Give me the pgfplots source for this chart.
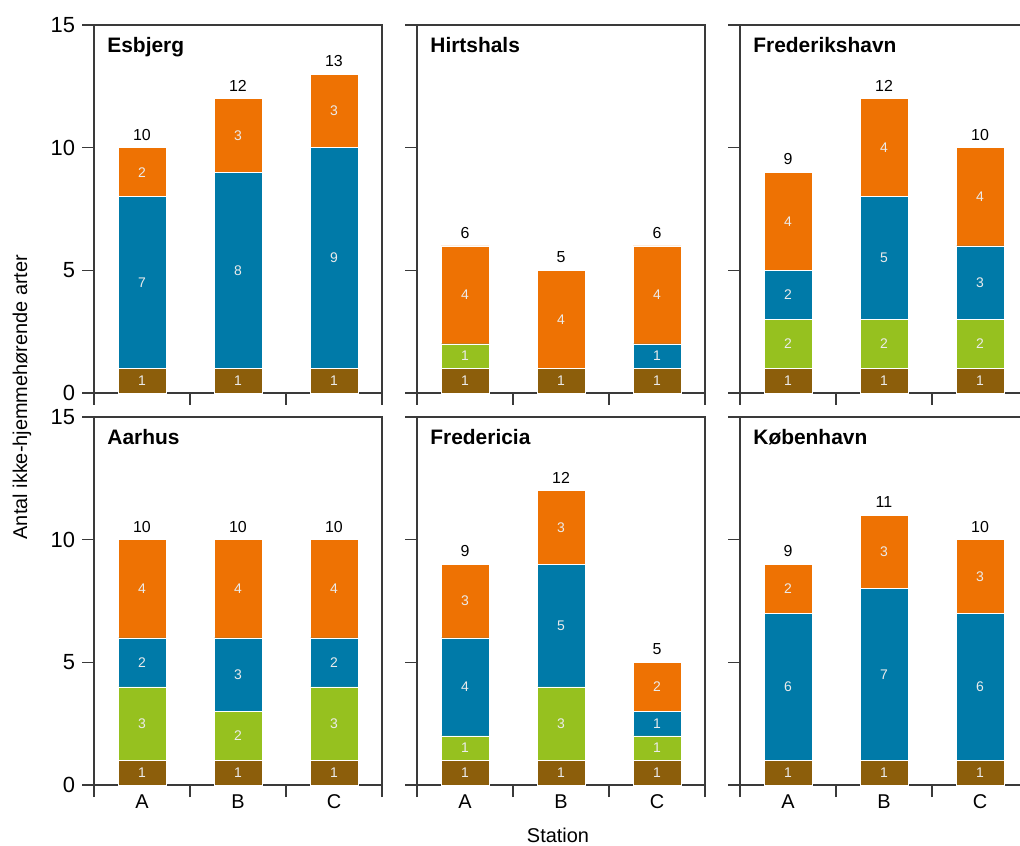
\documentclass[border=0pt]{standalone}
\usepackage{fontspec}
\setmainfont{Liberation Sans}
\usepackage{pgfplots}
\usepackage{pgfplotstable}
\pgfplotsset{compat=1.18}

\definecolor{cbrown}{HTML}{8C5E0B}
\definecolor{cgreen}{HTML}{96C11F}
\definecolor{cblue}{HTML}{007AA8}
\definecolor{corange}{HTML}{EE7203}
\definecolor{axisgray}{HTML}{3A3A3A}

% x = station (A,B,C); b, g, u, o = number of species in each group
\pgfplotstableread{
x b g u o
1 1 0 7 2
2 1 0 8 3
3 1 0 9 3
}\esbjerg
\pgfplotstableread{
x b g u o
1 1 1 0 4
2 1 0 0 4
3 1 0 1 4
}\hirtshals
\pgfplotstableread{
x b g u o
1 1 2 2 4
2 1 2 5 4
3 1 2 3 4
}\frederikshavn
\pgfplotstableread{
x b g u o
1 1 3 2 4
2 1 2 3 4
3 1 3 2 4
}\aarhus
\pgfplotstableread{
x b g u o
1 1 1 4 3
2 1 3 5 3
3 1 1 1 2
}\fredericia
\pgfplotstableread{
x b g u o
1 1 0 6 2
2 1 0 7 3
3 1 0 6 3
}\kobenhavn

\pgfplotsset{
  /pgf/number format/assume math mode=true,
  panel/.style={
    scale only axis, width=144bp, height=184bp,
    anchor=south west, clip=false,
    xmin=0.5, xmax=3.5, ymin=0, ymax=15,
    xtick={0.5,1.5,2.5,3.5}, xticklabels={},
    ytick={0,5,10,15}, yticklabels={},
    tick pos=left, tick align=outside,
    major tick length=6bp,
    axis line style={draw=axisgray, line width=0.8bp},
    every tick/.style={draw=axisgray, line width=0.8bp},
    tick label style={font=\fontsize{11}{13}\selectfont},
  },
  ylabs/.style={yticklabels={0,5,10,15}},
  xlabs/.style={
    extra x ticks={1,2,3}, extra x tick labels={A,B,C},
    extra x tick style={major tick length=0pt,
      tick label style={font=\fontsize{10}{12}\selectfont, yshift=-1.5bp}},
  },
  seg/.style={ybar, bar width=0.5, bar shift=0pt, draw=white,
    line width=0.25bp, fill=#1},
  total/.style={nodes near coords, point meta=y,
    every node near coord/.append style={font=\fontsize{8}{9}\selectfont,
      text=black, inner sep=0pt, yshift=3.5bp}},
  lab/.style={draw=none, mark=none, point meta=explicit,
    nodes near coords={\pgfmathprintnumber{\pgfplotspointmeta}},
    every node near coord/.append style={anchor=center, inner sep=0pt,
      font=\fontsize{7}{8}\selectfont, text=white!92!black}},
}

\newcommand{\panel}[4]{%
\begin{axis}[panel, at={#1}, #4]
  % stacked bars drawn as cumulative heights, tallest first
  \addplot[seg=corange, total] table[x=x,
    y expr=\thisrow{b}+\thisrow{g}+\thisrow{u}+\thisrow{o}] {#2};
  \addplot[seg=cblue] table[x=x, y expr=\thisrow{b}+\thisrow{g}+\thisrow{u}] {#2};
  \addplot[seg=cgreen] table[x=x, y expr=\thisrow{b}+\thisrow{g}] {#2};
  \addplot[seg=cbrown] table[x=x, y=b] {#2};
  % segment values in the middle of each segment
  \addplot[lab] table[x=x, y expr=\thisrow{b}/2, meta=b] {#2};
  \addplot[lab] table[x=x, meta=g,
    y expr={\thisrow{g}>0 ? \thisrow{b}+\thisrow{g}/2 : nan}] {#2};
  \addplot[lab] table[x=x, meta=u,
    y expr={\thisrow{u}>0 ? \thisrow{b}+\thisrow{g}+\thisrow{u}/2 : nan}] {#2};
  \addplot[lab] table[x=x, meta=o,
    y expr={\thisrow{o}>0 ? \thisrow{b}+\thisrow{g}+\thisrow{u}+\thisrow{o}/2 : nan}] {#2};
  \node[anchor=north west, inner sep=0pt, xshift=6.5bp, yshift=-6bp,
    font=\bfseries\fontsize{10.5}{12}\selectfont] at (rel axis cs:0,1) {#3};
\end{axis}}

\begin{document}
\begin{tikzpicture}
\panel{(47bp,226.5bp)}{\esbjerg}{Esbjerg}{ylabs}
\panel{(208.5bp,226.5bp)}{\hirtshals}{Hirtshals}{}
\panel{(370bp,226.5bp)}{\frederikshavn}{Frederikshavn}{}
\panel{(47bp,30.5bp)}{\aarhus}{Aarhus}{ylabs,xlabs}
\panel{(208.5bp,30.5bp)}{\fredericia}{Fredericia}{xlabs}
\panel{(370bp,30.5bp)}{\kobenhavn}{København}{xlabs}
\node[anchor=base, font=\fontsize{10}{12}\selectfont] at (279bp,2bp) {Station};
\node[rotate=90, font=\fontsize{10}{12}\selectfont] at (11bp,224.5bp)
  {Antal ikke-hjemmehørende arter};
\pgfresetboundingbox
\useasboundingbox (0,0) rectangle (510bp,423bp);
\end{tikzpicture}
\end{document}
